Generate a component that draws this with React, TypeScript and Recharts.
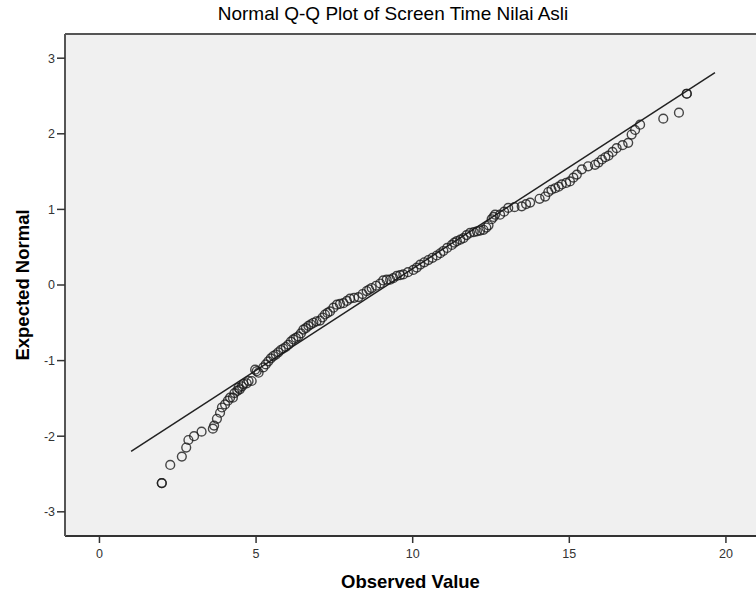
import { ScatterChart, Scatter, XAxis, YAxis, CartesianGrid, ReferenceLine, Label } from 'recharts';

const observed = [
  1.99, 1.99, 2.26, 2.63, 2.77, 2.84, 3.02, 3.26, 3.62, 3.66, 3.75, 3.85, 3.91, 4.01, 4.1, 4.17, 4.26, 4.31,
  4.4, 4.44, 4.48, 4.55, 4.6, 4.7, 4.76, 4.86, 4.97, 5.02, 5.08, 5.23, 5.31, 5.39, 5.47, 5.55, 5.63, 5.71,
  5.79, 5.87, 5.95, 6.03, 6.11, 6.19, 6.27, 6.35, 6.43, 6.51, 6.59, 6.67, 6.75, 6.83, 6.93, 7.04, 7.12, 7.2,
  7.28, 7.36, 7.47, 7.58, 7.68, 7.79, 7.9, 8.0, 8.13, 8.27, 8.4, 8.53, 8.61, 8.69, 8.83, 8.96, 9.06, 9.17,
  9.28, 9.38, 9.49, 9.6, 9.7, 9.85, 10.02, 10.13, 10.24, 10.37, 10.5, 10.63, 10.77, 10.88, 10.98, 11.1,
  11.25, 11.33, 11.41, 11.52, 11.62, 11.72, 11.83, 11.95, 12.05, 12.15, 12.26, 12.35, 12.42, 12.52, 12.58,
  12.63, 12.79, 12.92, 13.05, 13.25, 13.48, 13.62, 13.75, 14.05, 14.23, 14.33, 14.43, 14.55, 14.66, 14.76,
  14.9, 15.02, 15.13, 15.24, 15.4, 15.6, 15.82, 15.93, 16.04, 16.15, 16.25, 16.38, 16.51, 16.7, 16.88,
  16.99, 17.1, 17.26, 18.0, 18.5, 18.75, 18.75,
];

const expectedNormal = [
  -2.62, -2.62, -2.38, -2.27, -2.15, -2.05, -2.0, -1.94, -1.9, -1.86, -1.77, -1.69, -1.62, -1.58, -1.53, -1.49, -1.49, -1.43,
  -1.4, -1.36, -1.38, -1.34, -1.31, -1.3, -1.27, -1.27, -1.12, -1.14, -1.16, -1.09, -1.05, -1.01, -0.97, -0.94, -0.92, -0.89,
  -0.86, -0.84, -0.82, -0.79, -0.75, -0.72, -0.7, -0.68, -0.64, -0.59, -0.57, -0.54, -0.52, -0.5, -0.48, -0.47, -0.43, -0.39,
  -0.37, -0.35, -0.3, -0.26, -0.25, -0.24, -0.21, -0.18, -0.17, -0.16, -0.12, -0.08, -0.06, -0.04, -0.01, 0.02, 0.06, 0.07,
  0.07, 0.09, 0.12, 0.13, 0.14, 0.17, 0.2, 0.23, 0.27, 0.3, 0.33, 0.36, 0.39, 0.42, 0.45, 0.49,
  0.53, 0.56, 0.58, 0.6, 0.62, 0.66, 0.69, 0.7, 0.71, 0.72, 0.73, 0.76, 0.79, 0.87, 0.9,
  0.93, 0.93, 0.97, 1.02, 1.03, 1.04, 1.07, 1.09, 1.14, 1.17, 1.23, 1.26, 1.28, 1.3, 1.33,
  1.35, 1.37, 1.42, 1.46, 1.53, 1.57, 1.59, 1.62, 1.66, 1.69, 1.71, 1.76, 1.81, 1.85, 1.88,
  1.99, 2.05, 2.12, 2.2, 2.28, 2.53, 2.53,
];

// endpoints of the normal reference line
const fitLine = [
  { x: 1.01, y: -2.2 },
  { x: 19.65, y: 2.81 },
];

const xTicks = [0, 5, 10, 15, 20];
const yTicks = [-3, -2, -1, 0, 1, 2, 3];

const points = observed.map((x, i) => ({ x, y: expectedNormal[i] }));

const FONT = '"Liberation Sans", Arial, sans-serif';
const X_DOMAIN: [number, number] = [-1.1, 20.96];
const Y_DOMAIN: [number, number] = [-3.32, 3.32];

const Ring = (props: any) => (
  <circle
    cx={props.cx}
    cy={props.cy}
    r={4.4}
    fill="none"
    stroke="#1a1a1a"
    strokeOpacity={0.8}
    strokeWidth={1.4}
  />
);

export default function App() {
  return (
    <div style={{ position: 'absolute', left: 0, top: 0, width: 756, height: 599, background: '#fff' }}>
      <div
        style={{
          position: 'absolute',
          left: 393,
          top: 2,
          transform: 'translateX(-50%)',
          whiteSpace: 'nowrap',
          fontFamily: FONT,
          fontSize: 19,
          lineHeight: '24px',
          color: '#000',
        }}
      >
        Normal Q-Q Plot of Screen Time Nilai Asli
      </div>
      <ScatterChart width={756} height={599} margin={{ top: 34, right: 0, bottom: 0, left: 0 }}>
        <CartesianGrid horizontal={false} vertical={false} fill="#F0F0F0" stroke="none" />
        <XAxis
          type="number"
          dataKey="x"
          domain={X_DOMAIN}
          ticks={xTicks}
          allowDataOverflow
          height={63}
          tickSize={7}
          tickMargin={6}
          axisLine={{ stroke: '#333', strokeWidth: 2 }}
          tickLine={{ stroke: '#333', strokeWidth: 1.5 }}
          tick={{ fill: '#333', fontSize: 12.5, fontFamily: FONT }}
        >
          <Label
            content={(p: any) => {
              const vb = p.viewBox;
              return (
                <text
                  x={vb.x + vb.width / 2}
                  y={588}
                  textAnchor="middle"
                  fontFamily={FONT}
                  fontWeight="bold"
                  fontSize={18.5}
                  fill="#000"
                >
                  Observed Value
                </text>
              );
            }}
          />
        </XAxis>
        <YAxis
          type="number"
          dataKey="y"
          domain={Y_DOMAIN}
          ticks={yTicks}
          allowDataOverflow
          width={65}
          tickSize={8}
          tickMargin={2}
          axisLine={{ stroke: '#555', strokeWidth: 2 }}
          tickLine={{ stroke: '#333', strokeWidth: 1.5 }}
          tick={{ fill: '#333', fontSize: 12.5, fontFamily: FONT }}
        >
          <Label
            content={(p: any) => {
              const vb = p.viewBox;
              const cx = 22;
              const cy = vb.y + vb.height / 2;
              return (
                <text
                  x={cx}
                  y={cy}
                  transform={`rotate(-90 ${cx} ${cy})`}
                  textAnchor="middle"
                  dominantBaseline="central"
                  fontFamily={FONT}
                  fontWeight="bold"
                  fontSize={18.5}
                  fill="#000"
                >
                  Expected Normal
                </text>
              );
            }}
          />
        </YAxis>
        <ReferenceLine y={Y_DOMAIN[1]} stroke="#555" strokeWidth={2} />
        <ReferenceLine segment={fitLine} stroke="#222" strokeWidth={1.5} ifOverflow="visible" />
        <Scatter data={points} shape={Ring} isAnimationActive={false} />
      </ScatterChart>
    </div>
  );
}
